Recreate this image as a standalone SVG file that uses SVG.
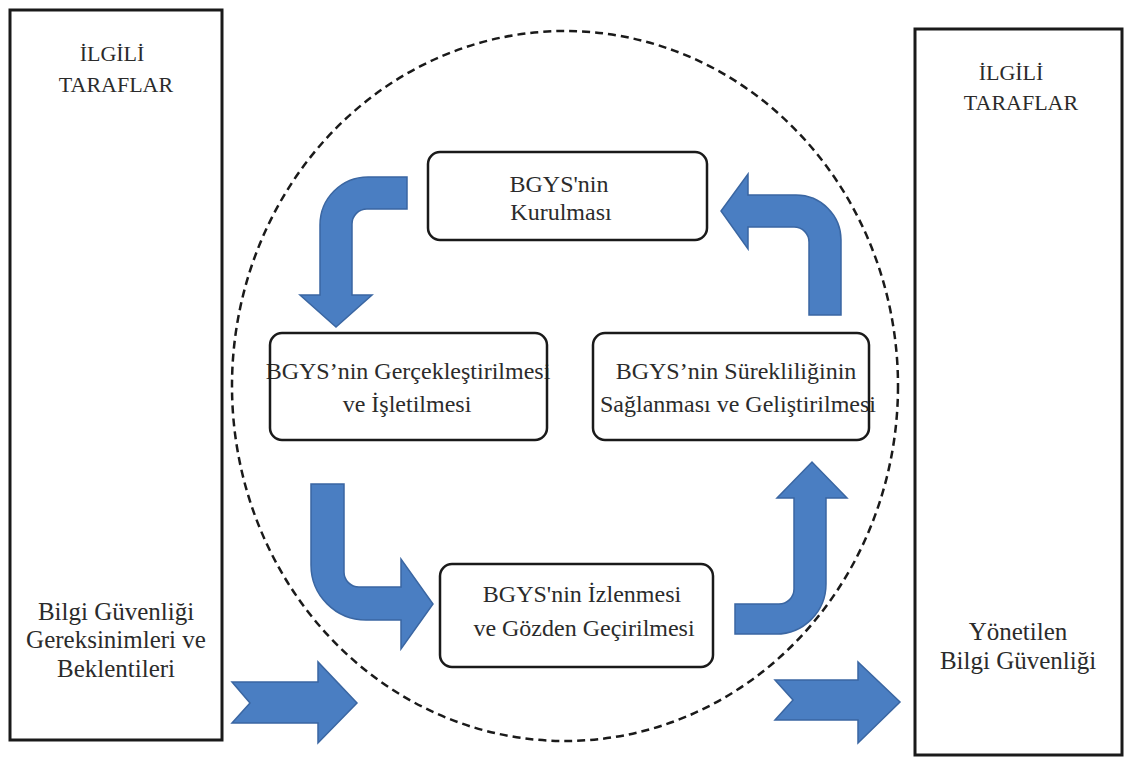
<svg xmlns="http://www.w3.org/2000/svg" width="1124" height="758" viewBox="0 0 1124 758">
<style>
.side{fill:#fff;stroke:#1a1a1a;stroke-width:3}
.box{fill:#fff;stroke:#1a1a1a;stroke-width:2.5}
.t{font-family:"Liberation Serif","Times New Roman",serif;fill:#2b2b2b;text-anchor:middle}
.bt{font-size:24px}
.st{font-size:25px}
.ht{font-size:22px}
.arrow{fill:#4a7ec2;stroke:#3a66a2;stroke-width:1.5;stroke-linejoin:miter}
</style>
<rect width="1124" height="758" fill="#fff"/>
<g id="left-party">
<rect class="side" x="10" y="10" width="212" height="730"/>
<text class="t ht" x="112" y="61">İLGİLİ</text>
<text class="t ht" x="116" y="92">TARAFLAR</text>
<text class="t st" x="116" y="620">Bilgi Güvenliği</text>
<text class="t st" x="116" y="648">Gereksinimleri ve</text>
<text class="t st" x="116" y="677">Beklentileri</text>
</g>
<g id="right-party">
<rect class="side" x="915" y="29" width="207" height="726"/>
<text class="t ht" x="1011" y="80">İLGİLİ</text>
<text class="t ht" x="1021" y="110">TARAFLAR</text>
<text class="t st" x="1018" y="640">Yönetilen</text>
<text class="t st" x="1018" y="669">Bilgi Güvenliği</text>
</g>
<g id="cycle-boundary">
<ellipse cx="565" cy="386" rx="333" ry="355" fill="none" stroke="#1a1a1a" stroke-width="2.5" stroke-dasharray="8,5"/>
</g>
<g id="connectors">
<path class="arrow" d="M 407 177 H 368 A 48 48 0 0 0 320 225 V 295 H 300 L 336 327 L 372 295 H 352 V 224 A 15 15 0 0 1 367 209 H 407 Z"/>
<path class="arrow" d="M 809 315 H 841 V 240 A 45 45 0 0 0 796 195 H 748 V 174 L 721 211 L 748 249 V 227 H 794 A 15 15 0 0 1 809 242 Z"/>
<path class="arrow" d="M 311 484 H 344 V 572 A 15 15 0 0 0 359 587 H 401 V 559 L 433 604 L 401 649 V 620 H 366 A 55 55 0 0 1 311 565 Z"/>
<path class="arrow" d="M 735 604 H 779 A 15 15 0 0 0 794 589 V 498 H 777 L 812 462 L 847 498 H 826 V 584 A 50 50 0 0 1 776 634 H 735 Z"/>
<path class="arrow" d="M 232 682 H 318 V 662 L 357 703 L 318 743 V 723 H 232 L 250 703 Z"/>
<path class="arrow" d="M 775 680 H 858 V 662 L 900 702 L 858 743 V 720 H 775 L 793 700 Z"/>
</g>
<g id="node-kurulmasi">
<rect class="box" x="428" y="152" width="279" height="88" rx="12"/>
<text class="t bt" x="559" y="192">BGYS'nin</text>
<text class="t bt" x="561" y="220">Kurulması</text>
</g>
<g id="node-gerceklestirilmesi">
<text class="t bt" x="408" y="379">BGYS’nin Gerçekleştirilmesi</text>
<text class="t bt" x="407" y="412">ve İşletilmesi</text>
<rect class="box" x="270" y="333" width="277" height="107" rx="12" fill="none" style="fill:none"/>
</g>
<g id="node-sureklilik">
<text class="t bt" x="736" y="379">BGYS’nin Sürekliliğinin</text>
<text class="t bt" x="738" y="412">Sağlanması ve Geliştirilmesi</text>
<rect class="box" x="593" y="333" width="276" height="107" rx="12" style="fill:none"/>
</g>
<g id="node-izlenmesi">
<rect class="box" x="440" y="564" width="273" height="103" rx="12"/>
<text class="t bt" x="582" y="602">BGYS'nin İzlenmesi</text>
<text class="t bt" x="584" y="636">ve Gözden Geçirilmesi</text>
</g>
</svg>
